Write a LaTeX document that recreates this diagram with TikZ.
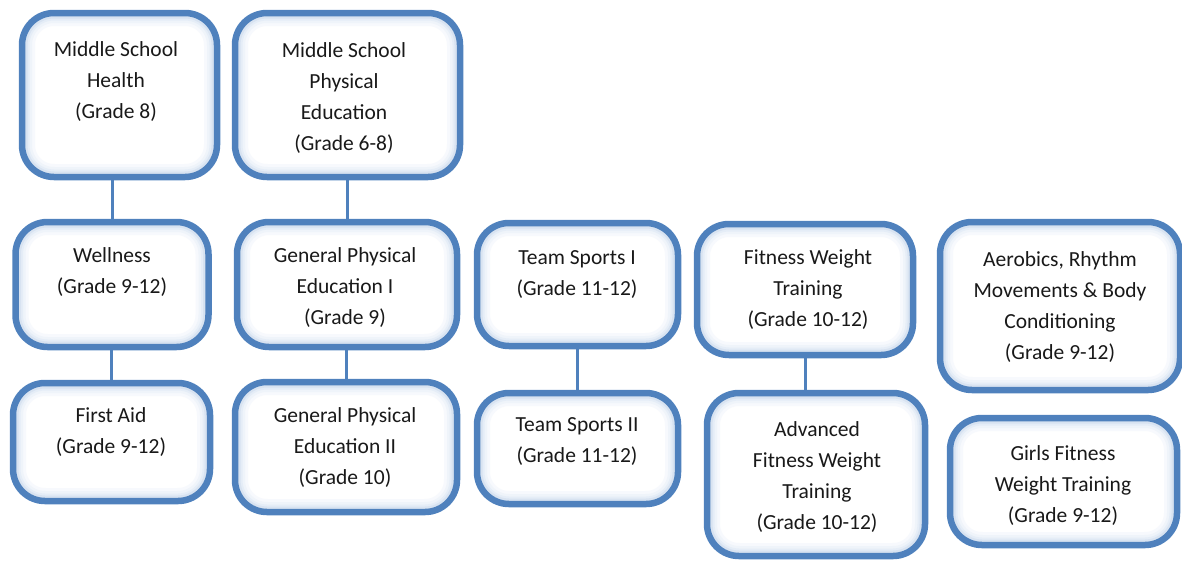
\documentclass[tikz,border=0pt]{standalone}
\usepackage{fontspec}
\setmainfont{Carlito}
\definecolor{bd}{HTML}{4F81BD}
\definecolor{glowa}{HTML}{F7F9FD}
\definecolor{glowb}{HTML}{EFF4FA}
\definecolor{glowc}{HTML}{E5EDF7}
\definecolor{glowd}{HTML}{D8E3F1}
\tikzset{
  glowring/.style={line width=#1, rounded corners=32pt},
  box/.style={draw=bd, line width=6.5pt, rounded corners=32pt, fill=white,
    path picture={
      \draw[glowa, glowring=26pt]
        (path picture bounding box.south west) rectangle (path picture bounding box.north east);
      \draw[glowb, glowring=20pt]
        (path picture bounding box.south west) rectangle (path picture bounding box.north east);
      \draw[glowc, glowring=15pt]
        (path picture bounding box.south west) rectangle (path picture bounding box.north east);
      \draw[glowd, glowring=11pt]
        (path picture bounding box.south west) rectangle (path picture bounding box.north east);
    }},
  lbl/.style={align=center, font=\fontsize{21.5}{31}\selectfont, text=black!90, inner sep=0pt},
  link/.style={draw=bd, line width=3pt}
}
\begin{document}
\begin{tikzpicture}[x=1pt,y=-1pt]
\useasboundingbox (0,0) rectangle (1182,560);
% boxes
\node[box, minimum width=195pt, minimum height=164pt] (msh)  at (119.5,95) {};
\node[box, minimum width=225pt, minimum height=164pt] (msp)  at (347.5,95) {};
\node[box, minimum width=193pt, minimum height=125pt] (wel)  at (112,284.5) {};
\node[box, minimum width=220pt, minimum height=125pt] (gpe1) at (347,284.5) {};
\node[box, minimum width=197pt, minimum height=118pt] (fa)   at (111.5,442) {};
\node[box, minimum width=222pt, minimum height=130pt] (gpe2) at (346,447) {};
\node[box, minimum width=201pt, minimum height=123pt] (ts1)  at (577.5,284.5) {};
\node[box, minimum width=201pt, minimum height=111pt] (ts2)  at (577.5,448.5) {};
\node[box, minimum width=216pt, minimum height=131pt] (fwt)  at (805,289.5) {};
\node[box, minimum width=218pt, minimum height=163pt] (afwt) at (816,474.5) {};
\node[box, minimum width=240pt, minimum height=168pt] (aer)  at (1060,306) {};
\node[box, minimum width=227pt, minimum height=127pt] (gfw)  at (1063.5,481.5) {};
% connectors
\draw[link] (wel.north) -- (wel.north |- msh.south);
\draw[link] (gpe1.north) -- (gpe1.north |- msp.south);
\draw[link] (fa.north) -- (fa.north |- wel.south);
\draw[link] (gpe2.north) -- (gpe2.north |- gpe1.south);
\draw[link] (ts2.north) -- (ts2.north |- ts1.south);
\draw[link] (fwt.south) -- (fwt.south |- afwt.north);
% labels
\node[lbl] (msh-t)  at (116,82)  {Middle School\\Health\\(Grade 8)};
\node[lbl] (msp-t)  at (344,98)  {Middle School\\Physical\\Education\\(Grade 6-8)};
\node[lbl] (wel-t)  at (112,272) {Wellness\\(Grade 9-12)};
\node[lbl] (gpe1-t) at (345,288) {General Physical\\Education I\\(Grade 9)};
\node[lbl] (fa-t)   at (111,432) {First Aid\\(Grade 9-12)};
\node[lbl] (gpe2-t) at (345,448) {General Physical\\Education II\\(Grade 10)};
\node[lbl] (ts1-t)  at (577,275) {Team Sports I\\(Grade 11-12)};
\node[lbl] (ts2-t)  at (577,442) {Team Sports II\\(Grade 11-12)};
\node[lbl] (fwt-t)  at (808,290) {Fitness Weight\\Training\\(Grade 10-12)};
\node[lbl] (afwt-t) at (817,477) {Advanced\\Fitness Weight\\Training\\(Grade 10-12)};
\node[lbl] (aer-t)  at (1060,307) {Aerobics, Rhythm\\Movements \& Body\\Conditioning\\(Grade 9-12)};
\node[lbl] (gfw-t)  at (1063,486) {Girls Fitness\\Weight Training\\(Grade 9-12)};
\end{tikzpicture}
\end{document}
